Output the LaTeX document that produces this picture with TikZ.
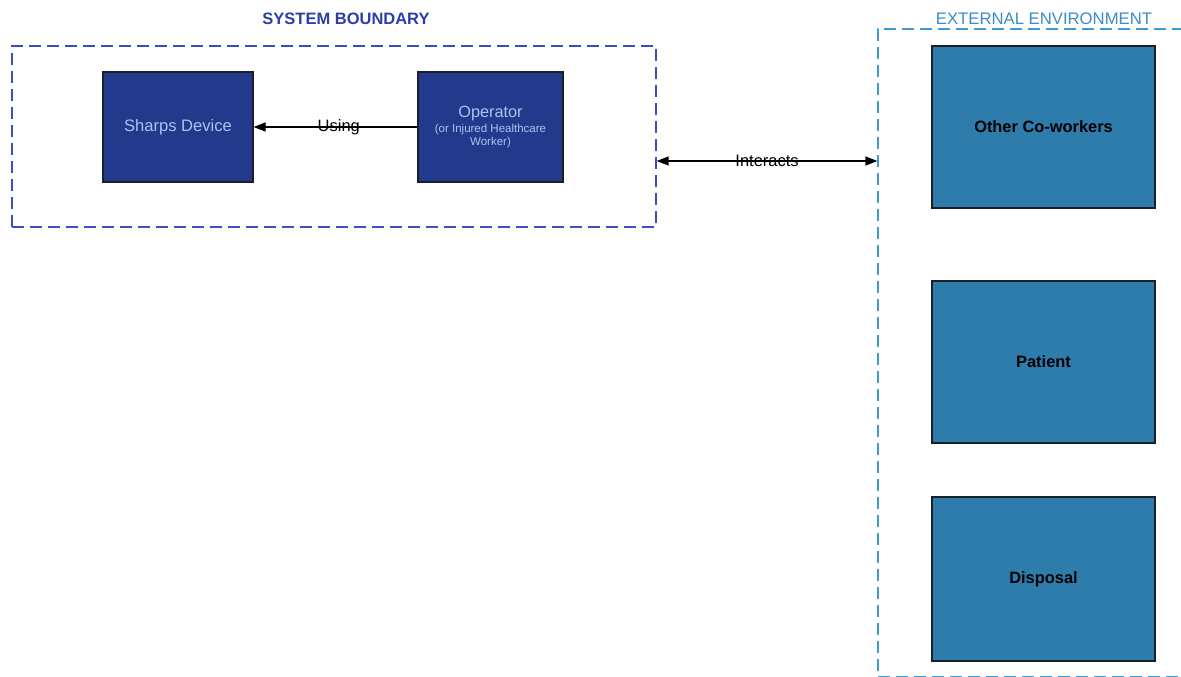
\documentclass[tikz,border=0pt]{standalone}
\usepackage{fontspec}
\setmainfont{Liberation Sans}
\usetikzlibrary{arrows.meta,calc}
\definecolor{navybox}{HTML}{22398C}
\definecolor{tealbox}{HTML}{2E7CAC}
\definecolor{navytext}{HTML}{ABC3F2}
\definecolor{sysblue}{HTML}{3A4EC2}
\definecolor{systitle}{HTML}{2C3FA8}
\definecolor{extblue}{HTML}{3C9AD4}
\definecolor{exttitle}{HTML}{3A8CC8}
\definecolor{edgedark}{HTML}{1A1F2A}
\tikzset{
  x=1pt, y=-1pt,
  >={Triangle[length=12pt,width=9pt]},
  inner/.style={draw=edgedark, line width=1.2pt, fill=navybox, text=navytext,
    minimum width=150pt, minimum height=110pt, inner sep=0pt, align=center},
  outer/.style={draw=edgedark, line width=1.2pt, fill=tealbox, text=black,
    font=\fontsize{16.4}{19}\selectfont\bfseries,
    minimum width=223pt, minimum height=162pt, inner sep=0pt},
  boundary/.style={dash pattern=on 12pt off 6pt, line width=1.4pt, inner sep=0pt},
  link/.style={line width=1.5pt, black},
  linklabel/.style={font=\fontsize{16.5}{19}\selectfont, text=black, inner sep=0pt}
}
\begin{document}
\begin{tikzpicture}
\useasboundingbox (0,0) rectangle (1181,677);
\clip (0,0) rectangle (1181,677);

% system boundary and its title
\node[boundary, draw=sysblue, minimum width=644pt, minimum height=181pt]
  (sysb) at (334,136.5) {};
\node[text=systitle, font=\fontsize{16.5}{19}\selectfont\bfseries] (systitle) at (346,19) {SYSTEM BOUNDARY};

% external environment boundary (runs past the right and bottom edges)
\node[boundary, draw=extblue, line width=1.2pt, minimum width=360pt, minimum height=648pt]
  (ext) at (1058,353) {};
\node[text=exttitle, font=\fontsize{16.7}{19}\selectfont] (exttitle) at (1044,19) {EXTERNAL ENVIRONMENT};

% elements inside the system
\node[inner, font=\fontsize{16.6}{19}\selectfont] (sharps) at (178,127) {Sharps Device};
\node[inner, minimum width=145pt] (operator) at (490.5,127)
  {{\fontsize{16.3}{19}\selectfont Operator}\\[3pt]
   {\fontsize{11.5}{15}\selectfont (or Injured Healthcare}\\[1pt]
   {\fontsize{11.5}{15}\selectfont Worker)}};

% elements of the environment
\node[outer] (cowork) at (1043.5,127) {Other Co-workers};
\node[outer] (patient) at (1043.5,362) {Patient};
\node[outer, minimum height=164pt] (disposal) at (1043.5,579) {Disposal};

% connectors
\draw[link, ->] (operator.west) -- node[linklabel, pos=0.48] {Using} (sharps.east);
\coordinate (iy) at (0,161);
\draw[link, <->] (sysb.east |- iy) -- node[linklabel] {Interacts} (ext.west |- iy);
\end{tikzpicture}
\end{document}
